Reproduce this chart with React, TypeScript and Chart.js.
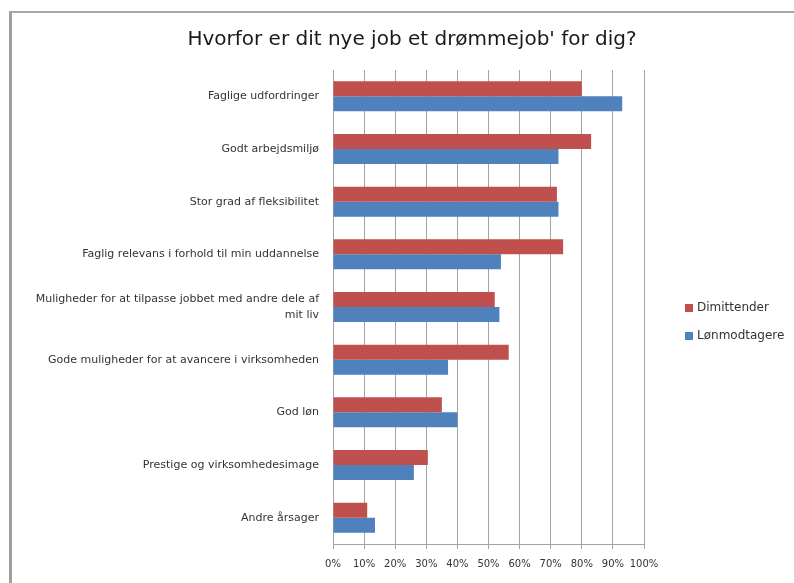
import React, { useEffect, useRef } from "react";
import { Chart, registerables } from "chart.js";

Chart.register(...registerables);

const TITLE = "Hvorfor er dit nye job et drømmejob' for dig?";

const categories: (string | string[])[] = [
  "Faglige udfordringer",
  "Godt arbejdsmiljø",
  "Stor grad af fleksibilitet",
  "Faglig relevans i forhold til min uddannelse",
  ["Muligheder for at tilpasse jobbet med andre dele af", "mit liv"],
  "Gode muligheder for at avancere i virksomheden",
  "God løn",
  "Prestige og virksomhedesimage",
  "Andre årsager",
];

const seriesNames = ["Dimittender", "Lønmodtagere"];
const dimittender = [80, 83, 72, 74, 52, 56.5, 35, 30.5, 11];
const lonmodtagere = [93, 72.5, 72.5, 54, 53.5, 37, 40, 26, 13.5];
const seriesColors = ["#C0504D", "#4F81BD"];

const xTickValues = [0, 10, 20, 30, 40, 50, 60, 70, 80, 90, 100];

const FONT = "'DejaVu Sans', sans-serif";
const GRID = "#a3a3a3";

const framePlugin = {
  id: "frameAndLegend",
  beforeDraw(chart: any) {
    const { ctx, width, height } = chart;
    ctx.save();
    ctx.fillStyle = "#ffffff";
    ctx.fillRect(0, 0, width, height);
    ctx.strokeStyle = "#a8a8a8";
    ctx.lineWidth = 2;
    ctx.beginPath();
    ctx.moveTo(9, 12);
    ctx.lineTo(width, 12);
    ctx.stroke();
    ctx.lineWidth = 3;
    ctx.strokeStyle = "#a0a0a0";
    ctx.beginPath();
    ctx.moveTo(10.5, 11);
    ctx.lineTo(10.5, height);
    ctx.stroke();
    ctx.restore();
  },
  afterDraw(chart: any) {
    const { ctx, chartArea } = chart;
    const x0 = chartArea.right + 41;
    const y0 = 308;
    const gap = 28;
    ctx.save();
    ctx.font = `12px ${FONT}`;
    ctx.textBaseline = "middle";
    ctx.textAlign = "left";
    chart.data.datasets.forEach((ds: any, i: number) => {
      const y = y0 + i * gap;
      ctx.fillStyle = ds.backgroundColor;
      ctx.fillRect(x0, y - 4, 8, 8);
      ctx.fillStyle = "#333333";
      ctx.fillText(ds.label, x0 + 12, y);
    });
    ctx.restore();
  },
};

export default function App() {
  const ref = useRef<HTMLCanvasElement | null>(null);

  useEffect(() => {
    if (!ref.current) return;
    const chart = new Chart(ref.current, {
      type: "bar",
      data: {
        labels: categories,
        datasets: [
          {
            label: seriesNames[0],
            data: dimittender,
            backgroundColor: seriesColors[0],
            borderWidth: 0,
            categoryPercentage: 0.57,
            barPercentage: 1,
          },
          {
            label: seriesNames[1],
            data: lonmodtagere,
            backgroundColor: seriesColors[1],
            borderWidth: 0,
            categoryPercentage: 0.57,
            barPercentage: 1,
          },
        ],
      },
      options: {
        indexAxis: "y",
        animation: false,
        responsive: false,
        maintainAspectRatio: false,
        layout: { padding: { left: 30, right: 0, top: 0, bottom: 0 } },
        plugins: {
          legend: { display: false },
          tooltip: { enabled: false },
          title: {
            display: true,
            text: TITLE,
            color: "#1a1a1a",
            font: { family: FONT, size: 20, weight: "normal" as any, lineHeight: 1.2 },
            padding: { top: 28, bottom: 18 },
          },
        },
        scales: {
          x: {
            type: "linear",
            position: "bottom",
            min: 0,
            max: 100,
            afterBuildTicks(scale: any) {
              scale.ticks = xTickValues.map((v) => ({ value: v }));
            },
            afterFit(scale: any) {
              scale.height = 39;
            },
            ticks: {
              callback: (v: any) => `${v}%`,
              color: "#333333",
              font: { family: FONT, size: 10 },
              padding: 9,
              maxRotation: 0,
              minRotation: 0,
              autoSkip: false,
              stepSize: 10,
            },
            grid: {
              color: GRID,
              lineWidth: 1,
              drawTicks: true,
              tickLength: 5,
            },
            border: { display: true, color: GRID, width: 1 },
          },
          y: {
            type: "category",
            position: "left",
            afterFit(scale: any) {
              scale.width = 303;
            },
            ticks: {
              color: "#333333",
              font: { family: FONT, size: 11, lineHeight: 1.4 },
              padding: 14,
              autoSkip: false,
            },
            grid: { display: false, drawTicks: false },
            border: { display: true, color: GRID, width: 1 },
          },
          yRight: {
            type: "category",
            position: "right",
            display: true,
            afterFit(scale: any) {
              scale.width = 150;
            },
            ticks: { display: false },
            grid: { display: false, drawTicks: false },
            border: { display: false },
          },
        },
      },
      plugins: [framePlugin],
    });
    return () => chart.destroy();
  }, []);

  return (
    <div style={{ position: "absolute", left: 0, top: 0, width: 794, height: 583 }}>
      <canvas ref={ref} width={794} height={583} />
    </div>
  );
}
